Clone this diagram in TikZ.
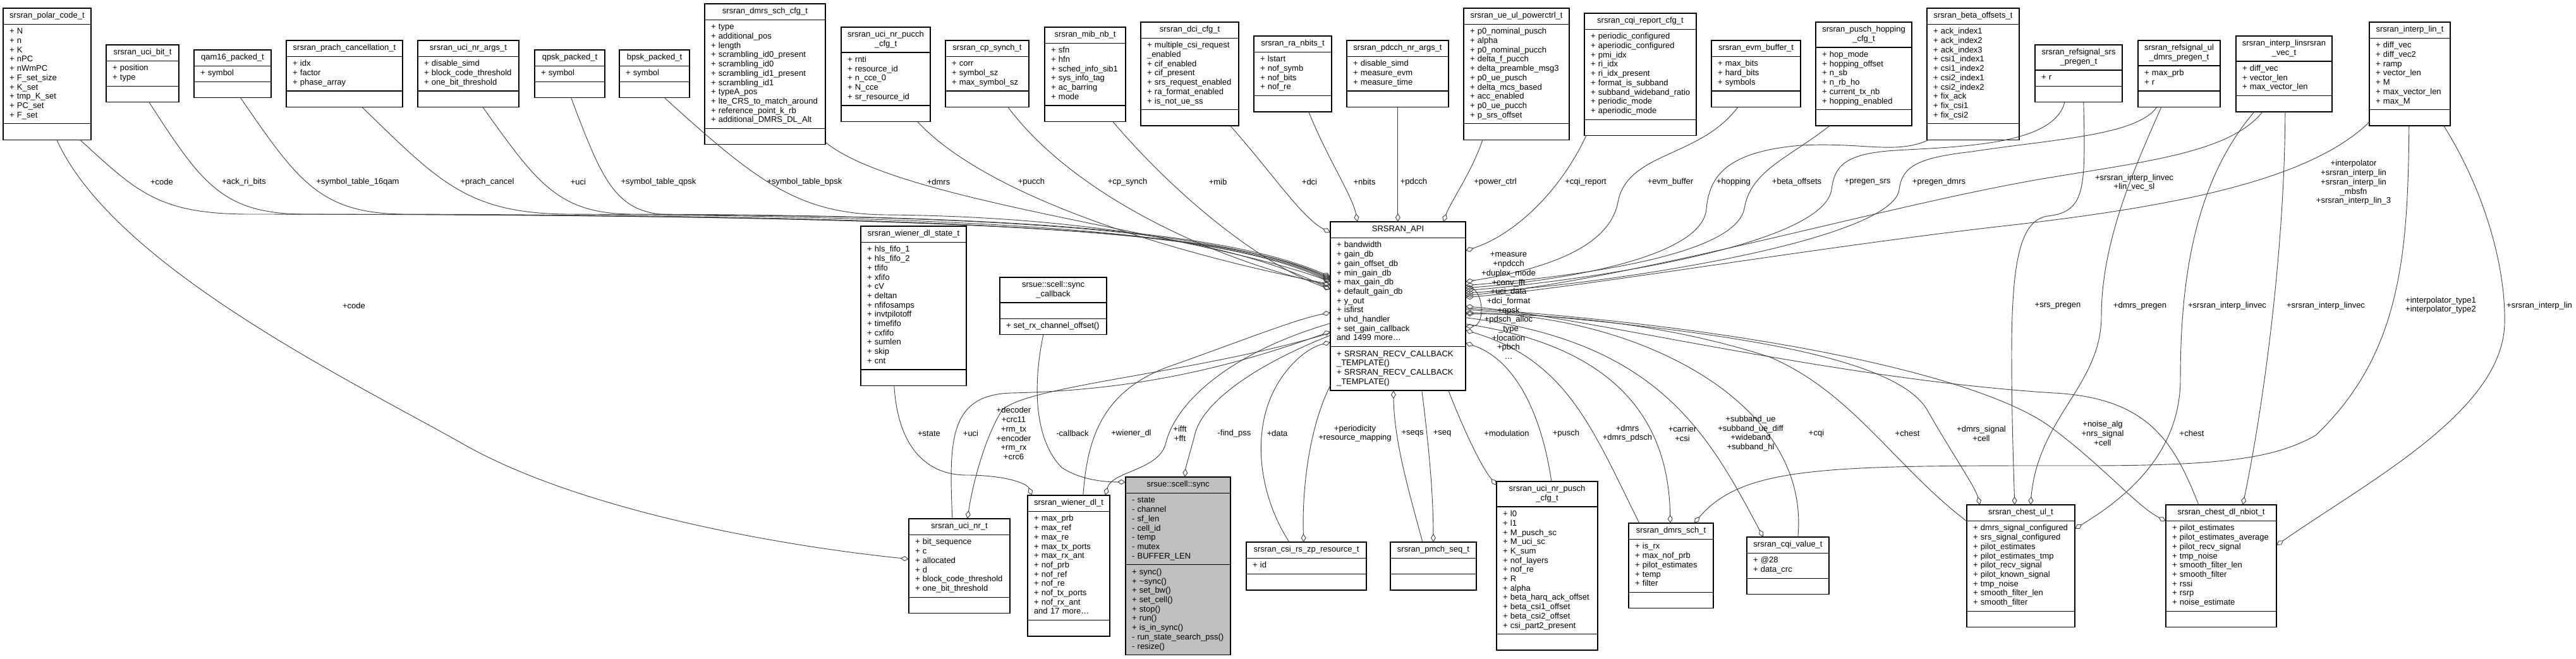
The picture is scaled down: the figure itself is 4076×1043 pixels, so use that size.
\documentclass[tikz,border=0pt]{standalone}
\usepackage{fontspec}
\newfontfamily\dxsans{Liberation Sans}
\usetikzlibrary{arrows.meta,calc,fit}
\newcommand{\dxfont}{\dxsans\fontsize{13}{14.7}\selectfont}
\newcommand{\dxstrut}{\rule[-4.4pt]{0pt}{14.7pt}}
\tikzset{
  dxpart/.style={draw=black, line width=1.2pt, fill=white, outer sep=0pt, inner ysep=5.3pt, font=\dxfont,
    execute at begin node={\hyphenpenalty=10000\dxstrut}, execute at end node={\dxstrut}},
  aggr/.style={draw=black!75, line width=0.9pt, -{Diamond[open,length=13pt,width=8pt]}},
  lbl/.style={font=\dxfont, align=center, inner sep=0pt}
}
% class box: [options]{name}{x,y}{width}{title}{attributes}{methods}
\newcommand{\dxclass}[7][]{%
  \node[dxpart,#1,anchor=north west,text width=#4-12,inner xsep=6pt,align=center] (#2-t) at (#3) {#5};
  \node[dxpart,#1,anchor=north west,text width=#4-20,inner xsep=10pt,align=left] (#2-a) at (#2-t.south west) {#6};
  \node[dxpart,#1,anchor=north west,text width=#4-20,inner xsep=10pt,align=left] (#2-m) at (#2-a.south west) {#7};
  \node[fit=(#2-t)(#2-m),inner sep=0pt] (#2) {};
}

\begin{document}
\begin{tikzpicture}[x=1pt,y=-1pt]
  \path[use as bounding box,fill=white] (0,0) rectangle (4076,1043);

  \dxclass{polar}{5,13}{139}{srsran\_polar\_code\_t}{+~N\\+~n\\+~K\\+~nPC\\+~nWmPC\\+~F\_set\_size\\+~K\_set\\+~tmp\_K\_set\\+~PC\_set\\+~F\_set}{}
  \dxclass{ucibit}{168,71}{115}{srsran\_uci\_bit\_t}{+~position\\+~type}{}
  \dxclass{qam16}{307,79}{122}{qam16\_packed\_t}{+~symbol}{}
  \dxclass{prachc}{453,64}{184}{srsran\_prach\_cancellation\_t}{+~idx\\+~factor\\+~phase\_array}{}
  \dxclass{ucinrargs}{661,64}{160}{srsran\_uci\_nr\_args\_t}{+~disable\_simd\\+~block\_code\_threshold\\+~one\_bit\_threshold}{}
  \dxclass{qpsk}{846,79}{111}{qpsk\_packed\_t}{+~symbol}{}
  \dxclass{bpsk}{980,79}{111}{bpsk\_packed\_t}{+~symbol}{}
  \dxclass{dmrscfg}{1115,6}{191}{srsran\_dmrs\_sch\_cfg\_t}{+~type\\+~additional\_pos\\+~length\\+~scrambling\_id0\_present\\+~scrambling\_id0\\+~scrambling\_id1\_present\\+~scrambling\_id1\\+~typeA\_pos\\+~lte\_CRS\_to\_match\_around\\+~reference\_point\_k\_rb\\+~additional\_DMRS\_DL\_Alt}{}
  \dxclass{pucchcfg}{1331,43}{141}{srsran\_uci\_nr\_pucch\\\_cfg\_t}{+~rnti\\+~resource\_id\\+~n\_cce\_0\\+~N\_cce\\+~sr\_resource\_id}{}
  \dxclass{cpsynch}{1496,64}{132}{srsran\_cp\_synch\_t}{+~corr\\+~symbol\_sz\\+~max\_symbol\_sz}{}
  \dxclass{mibnb}{1653,43}{128}{srsran\_mib\_nb\_t}{+~sfn\\+~hfn\\+~sched\_info\_sib1\\+~sys\_info\_tag\\+~ac\_barring\\+~mode}{}
  \dxclass{dcicfg}{1805,35}{155}{srsran\_dci\_cfg\_t}{+~multiple\_csi\_request\\\_enabled\\+~cif\_enabled\\+~cif\_present\\+~srs\_request\_enabled\\+~ra\_format\_enabled\\+~is\_not\_ue\_ss}{}
  \dxclass{ranbits}{1984,57}{123}{srsran\_ra\_nbits\_t}{+~lstart\\+~nof\_symb\\+~nof\_bits\\+~nof\_re}{}
  \dxclass{pdcchargs}{2131,64}{161}{srsran\_pdcch\_nr\_args\_t}{+~disable\_simd\\+~measure\_evm\\+~measure\_time}{}
  \dxclass{powerctrl}{2316,13}{167}{srsran\_ue\_ul\_powerctrl\_t}{+~p0\_nominal\_pusch\\+~alpha\\+~p0\_nominal\_pucch\\+~delta\_f\_pucch\\+~delta\_preamble\_msg3\\+~p0\_ue\_pusch\\+~delta\_mcs\_based\\+~acc\_enabled\\+~p0\_ue\_pucch\\+~p\_srs\_offset}{}
  \dxclass{cqicfg}{2507,21}{177}{srsran\_cqi\_report\_cfg\_t}{+~periodic\_configured\\+~aperiodic\_configured\\+~pmi\_idx\\+~ri\_idx\\+~ri\_idx\_present\\+~format\_is\_subband\\+~subband\_wideband\_ratio\\+~periodic\_mode\\+~aperiodic\_mode}{}
  \dxclass{evmbuf}{2708,64}{141}{srsran\_evm\_buffer\_t}{+~max\_bits\\+~hard\_bits\\+~symbols}{}
  \dxclass{hopping}{2873,35}{152}{srsran\_pusch\_hopping\\\_cfg\_t}{+~hop\_mode\\+~hopping\_offset\\+~n\_sb\\+~n\_rb\_ho\\+~current\_tx\_nb\\+~hopping\_enabled}{}
  \dxclass{betaoff}{3049,13}{146}{srsran\_beta\_offsets\_t}{+~ack\_index1\\+~ack\_index2\\+~ack\_index3\\+~csi1\_index1\\+~csi1\_index2\\+~csi2\_index1\\+~csi2\_index2\\+~fix\_ack\\+~fix\_csi1\\+~fix\_csi2}{}
  \dxclass{srspregen}{3220,71}{138}{srsran\_refsignal\_srs\\\_pregen\_t}{+~r}{}
  \dxclass{dmrspregen}{3383,64}{130}{srsran\_refsignal\_ul\\\_dmrs\_pregen\_t}{+~max\_prb\\+~r}{}
  \dxclass{linvec}{3538,57}{152}{srsran\_interp\_linsrsran\\\_vec\_t}{+~diff\_vec\\+~vector\_len\\+~max\_vector\_len}{}
  \dxclass{interplin}{3749,35}{128}{srsran\_interp\_lin\_t}{+~diff\_vec\\+~diff\_vec2\\+~ramp\\+~vector\_len\\+~M\\+~max\_vector\_len\\+~max\_M}{}

  \dxclass{api}{2105,351}{214}{SRSRAN\_API}{+~bandwidth\\+~gain\_db\\+~gain\_offset\_db\\+~min\_gain\_db\\+~max\_gain\_db\\+~default\_gain\_db\\+~y\_out\\+~isfirst\\+~uhd\_handler\\+~set\_gain\_callback\\and 1499 more\ldots}{+~SRSRAN\_RECV\_CALLBACK\\\_TEMPLATE()\\+~SRSRAN\_RECV\_CALLBACK\\\_TEMPLATE()}
  \dxclass{wdlstate}{1362,358}{167}{srsran\_wiener\_dl\_state\_t}{+~hls\_fifo\_1\\+~hls\_fifo\_2\\+~tfifo\\+~xfifo\\+~cV\\+~deltan\\+~nfifosamps\\+~invtpilotoff\\+~timefifo\\+~cxfifo\\+~sumlen\\+~skip\\+~cnt}{}
  \dxclass{synccb}{1582,439}{169}{srsue::scell::sync\hfill\\\_callback}{}{+~set\_rx\_channel\_offset()}
  \dxclass{ucinr}{1438,821}{160}{srsran\_uci\_nr\_t}{+~bit\_sequence\\+~c\\+~allocated\\+~d\\+~block\_code\_threshold\\+~one\_bit\_threshold}{}
  \dxclass{wienerdl}{1626,784}{130}{srsran\_wiener\_dl\_t}{+~max\_prb\\+~max\_ref\\+~max\_re\\+~max\_tx\_ports\\+~max\_rx\_ant\\+~nof\_prb\\+~nof\_ref\\+~nof\_re\\+~nof\_tx\_ports\\+~nof\_rx\_ant\\and 17 more\ldots}{}
  \dxclass[fill=black!25]{sync}{1781,755}{166}{srsue::scell::sync}{-~state\\-~channel\\-~sf\_len\\-~cell\_id\\-~temp\\-~mutex\\-~BUFFER\_LEN}{+~sync()\\+~\textasciitilde sync()\\+~set\_bw()\\+~set\_cell()\\+~stop()\\+~run()\\+~is\_in\_sync()\\-~run\_state\_search\_pss()\\-~resize()}
  \dxclass{csizp}{1972,858}{190}{srsran\_csi\_rs\_zp\_resource\_t}{+~id}{}
  \dxclass{pmchseq}{2200,858}{136}{srsran\_pmch\_seq\_t}{}{}
  \dxclass{puschcfg}{2368,762}{160}{srsran\_uci\_nr\_pusch\\\_cfg\_t}{+~l0\\+~l1\\+~M\_pusch\_sc\\+~M\_uci\_sc\\+~K\_sum\\+~nof\_layers\\+~nof\_re\\+~R\\+~alpha\\+~beta\_harq\_ack\_offset\\+~beta\_csi1\_offset\\+~beta\_csi2\_offset\\+~csi\_part2\_present}{}
  \dxclass{dmrssch}{2577,828}{134}{srsran\_dmrs\_sch\_t}{+~is\_rx\\+~max\_nof\_prb\\+~pilot\_estimates\\+~temp\\+~filter}{}
  \dxclass{cqival}{2764,850}{130}{srsran\_cqi\_value\_t}{+~@28\\+~data\_crc}{}
  \dxclass{chestul}{3112,799}{171}{srsran\_chest\_ul\_t}{+~dmrs\_signal\_configured\\+~srs\_signal\_configured\\+~pilot\_estimates\\+~pilot\_estimates\_tmp\\+~pilot\_recv\_signal\\+~pilot\_known\_signal\\+~tmp\_noise\\+~smooth\_filter\_len\\+~smooth\_filter}{}
  \dxclass{chestdl}{3427,799}{175}{srsran\_chest\_dl\_nbiot\_t}{+~pilot\_estimates\\+~pilot\_estimates\_average\\+~pilot\_recv\_signal\\+~tmp\_noise\\+~smooth\_filter\_len\\+~smooth\_filter\\+~rssi\\+~rsrp\\+~noise\_estimate}{}

  \draw[aggr] ($(polar.south west)+(122,0)$) .. controls (216,303) and (250,338) .. (390,339) .. controls (1650,340) and (1950,370) .. ($(api.north west)+(0,91)$);
  \draw[aggr] ($(ucibit.south west)+(68,0)$) .. controls (318,288) and (350,338) .. (480,339) .. controls (1650,341) and (1950,372) .. ($(api.north west)+(0,89)$);
  \draw[aggr] ($(qam16.south west)+(74,0)$) .. controls (471,286) and (506,338) .. (640,339) .. controls (1650,342) and (1950,373) .. ($(api.north west)+(0,93)$);
  \draw[aggr] ($(prachc.south west)+(120,0)$) .. controls (695,288) and (740,338) .. (900,339) .. controls (1650,343) and (1950,374) .. ($(api.north west)+(0,95)$);
  \draw[aggr] ($(ucinrargs.south west)+(103,0)$) .. controls (850,290) and (883,338) .. (1000,339) .. controls (1650,340) and (1950,371) .. ($(api.north west)+(0,87)$);
  \draw[aggr] ($(qpsk.south west)+(58,0)$) .. controls (953,286) and (974,338) .. (1060,340) .. controls (1650,342) and (1950,372) .. ($(api.north west)+(0,91)$);
  \draw[aggr] ($(bpsk.south west)+(72,0)$) .. controls (1200,290) and (1265,338) .. (1400,340) .. controls (1680,342) and (1950,380) .. ($(api.north west)+(0,107)$);
  \draw[aggr] ($(dmrscfg.south east)+(0,-4)$) .. controls (1420,320) and (1900,370) .. ($(api.north west)+(0,95)$);
  \draw[aggr] ($(pucchcfg.south west)+(121,0)$) .. controls (1560,310) and (1850,400) .. ($(api.north west)+(0,99)$);
  \draw[aggr] ($(cpsynch.south west)+(99,0)$) .. controls (1700,310) and (1920,410) .. ($(api.north west)+(0,101)$);
  \draw[aggr] ($(mibnb.south west)+(108,0)$) .. controls (1870,320) and (2000,420) .. ($(api.north west)+(0,107)$);
  \draw[aggr] ($(dcicfg.south west)+(142,0)$) .. controls (2010,270) and (2060,345) .. ($(api.north west)+(0,17)$);
  \draw[aggr] ($(ranbits.south west)+(87,0)$) .. controls (2100,250) and (2140,310) .. ($(api.north west)+(43,0)$);
  \draw[aggr] ($(pdcchargs.south west)+(81,0)$) -- ($(api.north west)+(107,0)$);
  \draw[aggr] ($(powerctrl.south west)+(30,0)$) .. controls (2330,270) and (2295,320) .. ($(api.north west)+(179,0)$);

  \draw[aggr] ($(cqicfg.south west)+(3,0)$) .. controls (2470,300) and (2400,370) .. ($(api.north east)+(0,46)$);
  \draw[aggr] ($(evmbuf.south west)+(42,0)$) .. controls (2690,250) and (2575,240) .. (2560,320) .. controls (2545,400) and (2420,430) .. ($(api.north east)+(0,95)$);
  \draw[aggr] ($(hopping.south west)+(22,0)$) .. controls (2830,250) and (2770,270) .. (2760,330) .. controls (2745,410) and (2460,440) .. ($(api.north east)+(0,101)$);
  \draw[aggr] ($(betaoff.south west)+(3,0)$) .. controls (3000,245) and (2950,225) .. (2850,230) .. controls (2730,240) and (2705,280) .. (2700,330) .. controls (2695,410) and (2460,445) .. ($(api.north east)+(0,105)$);
  \draw[aggr] ($(srspregen.south west)+(47,0)$) .. controls (3250,230) and (3100,232) .. (3000,238) .. controls (2915,243) and (2903,265) .. (2898,300) .. controls (2885,390) and (2500,445) .. ($(api.north east)+(0,109)$);
  \draw[aggr] ($(dmrspregen.south west)+(30,0)$) .. controls (3380,215) and (3250,220) .. (3120,240) .. controls (3030,250) and (3010,265) .. (3005,300) .. controls (2995,380) and (2550,450) .. ($(api.north east)+(0,113)$);
  \draw[aggr] ($(linvec.south west)+(42,0)$) .. controls (3530,240) and (3400,255) .. (3250,280) .. controls (3000,320) and (2600,440) .. ($(api.north east)+(0,117)$);
  \draw[aggr] ($(interplin.south west)+(0,-6)$) .. controls (3650,290) and (3420,330) .. (3150,360) .. controls (2850,395) and (2500,455) .. ($(api.north east)+(0,120)$);
  \draw[aggr] ($(api.north east)+(0,101)$) .. controls (2350,455) and (2350,515) .. ($(api.north east)+(0,166)$);

  \draw[aggr] ($(srspregen.south west)+(77,0)$) .. controls (3300,300) and (3300,335) .. (3240,342) .. controls (3195,348) and (3183,420) .. (3183,560) .. controls (3183,660) and (3186,740) .. ($(chestul.north west)+(76,0)$);
  \draw[aggr] ($(dmrspregen.south west)+(37,0)$) .. controls (3380,260) and (3325,380) .. (3325,500) .. controls (3325,610) and (3225,660) .. ($(chestul.north west)+(101,0)$);
  \draw[aggr] ($(linvec.south west)+(29,0)$) .. controls (3470,290) and (3450,450) .. (3450,600) .. controls (3450,720) and (3360,790) .. ($(chestul.north east)+(0,38)$);
  \draw[aggr] ($(linvec.south west)+(78,0)$) .. controls (3615,400) and (3580,650) .. ($(chestdl.north west)+(122,0)$);
  \draw[aggr] ($(interplin.south west)+(63,0)$) .. controls (3810,400) and (3800,560) .. (3664,689) .. controls (3600,725) and (3520,737) .. (3300,737) .. controls (2900,737) and (2760,735) .. ($(dmrssch.north west)+(104,0)$);
  \draw[aggr] ($(interplin.south west)+(118,0)$) .. controls (3930,300) and (3965,420) .. (3963,512) .. controls (3960,650) and (3750,760) .. ($(chestdl.north east)+(0,64)$);

  \draw[aggr] ($(puschcfg.north west)+(87,0)$) .. controls (2440,660) and (2400,570) .. ($(api.north east)+(0,192)$);
  \draw[aggr] ($(dmrssch.north west)+(17,0)$) .. controls (2520,680) and (2480,570) .. ($(api.north east)+(0,172)$);
  \draw[aggr] ($(api.north east)+(0,162)$) .. controls (2500,540) and (2640,620) .. ($(dmrssch.north west)+(66,0)$);
  \draw[aggr] ($(api.north east)+(0,152)$) .. controls (2620,540) and (2700,680) .. ($(cqival.north west)+(26,0)$);
  \draw[aggr] ($(cqival.north west)+(81,0)$) .. controls (2865,640) and (2600,500) .. ($(api.north east)+(0,144)$);
  \draw[aggr] ($(chestul.north west)+(0,26)$) .. controls (3000,740) and (2930,620) .. (2800,565) .. controls (2600,500) and (2400,497) .. ($(api.north east)+(0,146)$);
  \draw[aggr] ($(api.north east)+(0,139)$) .. controls (2700,520) and (3000,560) .. (3050,650) .. controls (3090,720) and (3125,770) .. ($(chestul.north west)+(21,0)$);
  \draw[aggr] ($(api.north east)+(0,137)$) .. controls (2800,520) and (3150,600) .. (3250,680) .. controls (3330,740) and (3380,800) .. ($(chestdl.north west)+(0,26)$);
  \draw[aggr] ($(chestdl.north west)+(52,0)$) .. controls (3440,700) and (3400,630) .. (3250,622) .. controls (2900,600) and (2500,500) .. ($(api.north east)+(0,134)$);

  \draw[aggr] ($(polar.south west)+(85,0)$) .. controls (180,420) and (550,600) .. (728,700) .. controls (900,800) and (1200,860) .. ($(ucinr.north west)+(0,64)$);
  \draw[aggr] ($(wdlstate.south west)+(53,0)$) .. controls (1420,700) and (1460,752) .. (1530,752) .. controls (1590,752) and (1625,765) .. ($(wienerdl.north west)+(7,0)$);
  \draw[aggr] ($(ucinr.north west)+(69,0)$) .. controls (1502,700) and (1500,625) .. (1600,622) .. controls (1800,618) and (1950,580) .. ($(api.north west)+(0,174)$);
  \draw[aggr] ($(api.north west)+(0,176)$) .. controls (1900,590) and (1620,610) .. (1585,650) .. controls (1560,690) and (1540,760) .. ($(ucinr.north west)+(93,0)$);
  \draw[aggr] ($(synccb.south west)+(69,0)$) .. controls (1632,620) and (1640,700) .. (1680,740) .. controls (1710,760) and (1750,763) .. ($(sync.north west)+(0,8)$);
  \draw[aggr] ($(wienerdl.north west)+(88,0)$) .. controls (1720,700) and (1740,620) .. (1850,580) .. controls (1950,545) and (2050,505) .. ($(api.north west)+(0,144)$);
  \draw[aggr] ($(api.north west)+(0,161)$) .. controls (1940,560) and (1860,640) .. (1845,700) .. controls (1835,745) and (1760,745) .. ($(wienerdl.north west)+(123,0)$);
  \draw[aggr] ($(api.north west)+(0,180)$) .. controls (1980,580) and (1900,640) .. (1890,690) .. controls (1882,720) and (1876,740) .. ($(sync.north west)+(94,0)$);
  \draw[aggr] ($(csizp.north west)+(68,0)$) .. controls (1990,780) and (1980,680) .. (2020,610) .. controls (2040,575) and (2070,550) .. ($(api.north west)+(0,191)$);
  \draw[aggr] ($(api.south west)+(0,-8)$) .. controls (2070,680) and (2060,780) .. ($(csizp.north west)+(91,0)$);
  \draw[aggr] ($(pmchseq.north west)+(51,0)$) .. controls (2230,780) and (2206,700) .. ($(api.south west)+(100,0)$);
  \draw[aggr] ($(api.south west)+(145,0)$) .. controls (2260,700) and (2268,780) .. ($(pmchseq.north west)+(68,0)$);
  \draw[aggr] ($(api.south west)+(187,0)$) .. controls (2320,690) and (2345,740) .. ($(puschcfg.north west)+(0,6)$);

  \node[lbl] (lb-code) at (256,288) {+code};
  \node[lbl] (lb-ackri) at (386,288) {+ack\_ri\_bits};
  \node[lbl] (lb-qam) at (566,288) {+symbol\_table\_16qam};
  \node[lbl] (lb-prach) at (771,288) {+prach\_cancel};
  \node[lbl] (lb-uciargs) at (915,288) {+uci};
  \node[lbl] (lb-qpsk) at (1042,288) {+symbol\_table\_qpsk};
  \node[lbl] (lb-bpsk) at (1273,288) {+symbol\_table\_bpsk};
  \node[lbl] (lb-dmrscfg) at (1485,288) {+dmrs};
  \node[lbl] (lb-pucch) at (1632,288) {+pucch};
  \node[lbl] (lb-cpsynch) at (1784,288) {+cp\_synch};
  \node[lbl] (lb-mib) at (1927,288) {+mib};
  \node[lbl] (lb-dci) at (2072,288) {+dci};
  \node[lbl] (lb-nbits) at (2159,288) {+nbits};
  \node[lbl] (lb-pdcch) at (2237,288) {+pdcch};
  \node[lbl] (lb-power) at (2366,288) {+power\_ctrl};
  \node[lbl] (lb-cqirep) at (2509,288) {+cqi\_report};
  \node[lbl] (lb-evm) at (2643,288) {+evm\_buffer};
  \node[lbl] (lb-hop) at (2743,288) {+hopping};
  \node[lbl] (lb-beta) at (2843,288) {+beta\_offsets};
  \node[lbl] (lb-psrs) at (2955,288) {+pregen\_srs};
  \node[lbl] (lb-pdmrs) at (3068,288) {+pregen\_dmrs};
  \node[lbl] (lb-linvec) at (3377,289) {+srsran\_interp\_linvec\\+lin\_vec\_sl};
  \node[lbl] (lb-interp) at (3724,289) {+interpolator\\+srsran\_interp\_lin\\+srsran\_interp\_lin\\\_mbsfn\\+srsran\_interp\_lin\_3};
  \node[lbl] (lb-codeuci) at (560,484) {+code};
  \node[lbl] (lb-self) at (2387,484) {+measure\\+npdcch\\+duplex\_mode\\+conv\_fft\\+uci\_data\\+dci\_format\\+qpsk\\+pdsch\_alloc\\\_type\\+location\\+pbch\\\ldots};
  \node[lbl] (lb-srspre) at (3256,484) {+srs\_pregen};
  \node[lbl] (lb-dmrspre) at (3386,484) {+dmrs\_pregen};
  \node[lbl] (lb-linvecul) at (3524,484) {+srsran\_interp\_linvec};
  \node[lbl] (lb-linvecdl) at (3680,484) {+srsran\_interp\_linvec};
  \node[lbl] (lb-itype) at (3862,483) {+interpolator\_type1\\+interpolator\_type2};
  \node[lbl] (lb-interpdl) at (4018,484) {+srsran\_interp\_lin};
  \node[lbl] (lb-state) at (1470,686) {+state};
  \node[lbl] (lb-uci) at (1536,686) {+uci};
  \node[lbl] (lb-decoder) at (1604,686) {+decoder\\+crc11\\+rm\_tx\\+encoder\\+rm\_rx\\+crc6};
  \node[lbl] (lb-callback) at (1697,686) {-callback};
  \node[lbl] (lb-wiener) at (1790,686) {+wiener\_dl};
  \node[lbl] (lb-fft) at (1867,686) {+ifft\\+fft};
  \node[lbl] (lb-findpss) at (1953,686) {-find\_pss};
  \node[lbl] (lb-data) at (2021,686) {+data};
  \node[lbl] (lb-period) at (2144,686) {+periodicity\\+resource\_mapping};
  \node[lbl] (lb-seqs) at (2235,686) {+seqs};
  \node[lbl] (lb-seq) at (2282,686) {+seq};
  \node[lbl] (lb-modul) at (2384,686) {+modulation};
  \node[lbl] (lb-pusch) at (2478,686) {+pusch};
  \node[lbl] (lb-dmrs) at (2575,686) {+dmrs\\+dmrs\_pdsch};
  \node[lbl] (lb-carrier) at (2662,686) {+carrier\\+csi};
  \node[lbl] (lb-subband) at (2770,686) {+subband\_ue\\+subband\_ue\_diff\\+wideband\\+subband\_hl};
  \node[lbl] (lb-cqi) at (2874,686) {+cqi};
  \node[lbl] (lb-chestul) at (3018,686) {+chest};
  \node[lbl] (lb-dmrssig) at (3135,686) {+dmrs\_signal\\+cell};
  \node[lbl] (lb-noise) at (3327,686) {+noise\_alg\\+nrs\_signal\\+cell};
  \node[lbl] (lb-chestdl) at (3468,686) {+chest};
\end{tikzpicture}
\end{document}
